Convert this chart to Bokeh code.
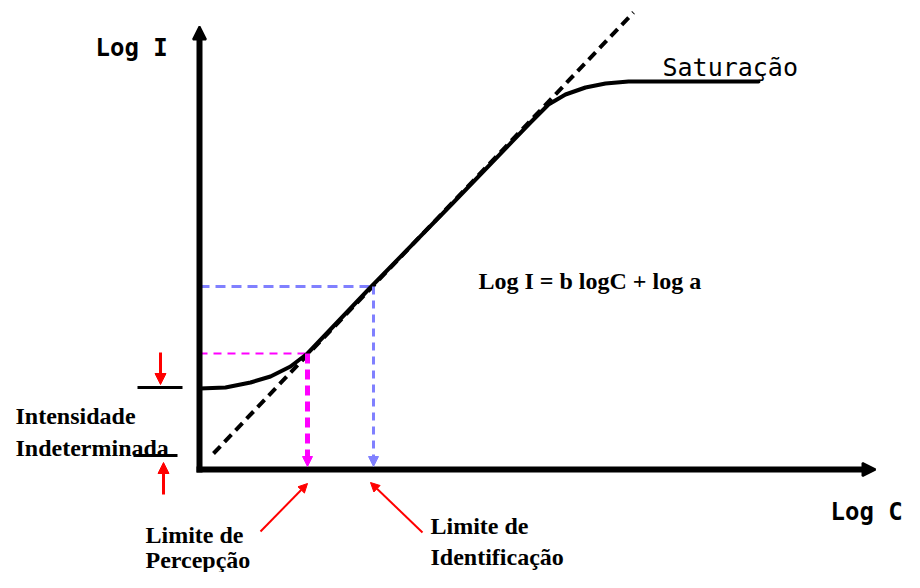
from bokeh.plotting import figure
from bokeh.models import Range1d, Arrow, NormalHead
from bokeh.core.properties import value
from bokeh.embed import file_html
from bokeh.resources import INLINE

# ---- data (arbitrary log units; origin = axes crossing) ----
curve_logC = [0.00, 0.26, 0.51, 0.71, 0.91, 1.08, 1.68, 2.51, 3.31, 3.49, 3.66, 3.86, 4.06, 4.29, 5.59]
curve_logI = [0.81, 0.82, 0.87, 0.93, 1.03, 1.16, 1.79, 2.64, 3.47, 3.65, 3.75, 3.82, 3.86, 3.88, 3.88]

tangent_logC = [0.14, 4.34]
tangent_logI = [0.16, 4.57]

axis_x_end = 6.76
axis_y_end = 4.43

perception_point = [1.08, 1.16]
identification_point = [1.74, 1.83]

indet_top_bar = [-0.62, -0.17, 0.82]
indet_bottom_bar = [-0.66, -0.22, 0.14]
indet_down_arrow = [-0.39, 1.17, 0.85]
indet_up_arrow = [-0.36, -0.25, 0.07]

perc_pointer = [0.61, -0.62, 1.08, -0.14]
ident_pointer = [2.23, -0.63, 1.71, -0.13]

labels_mono_bold = ["Log I", "Log C"]
labels_mono_bold_x = [-1.04, 6.31]
labels_mono_bold_y = [4.22, -0.42]

label_sat = ["Saturação"]
label_sat_x = [4.63]
label_sat_y = [4.02]

labels_serif = ["Intensidade", "Indeterminada", "Limite de", "Percepção",
                "Limite de", "Identificação", "Log I = b logC + log a"]
labels_serif_x = [-1.84, -1.84, -0.54, -0.54, 2.31, 2.31, 2.79]
labels_serif_y = [0.54, 0.22, -0.65, -0.90, -0.56, -0.87, 1.89]

W, H = 904, 572
p = figure(width=W, height=H, output_backend="svg", toolbar_location=None,
           x_range=Range1d(-1.99, 7.05), y_range=Range1d(-1.03, 4.69),
           min_border=0, min_border_left=0, min_border_right=0,
           min_border_top=0, min_border_bottom=0)
p.axis.visible = False
p.grid.visible = False
p.outline_line_color = None
p.background_fill_color = "white"
p.border_fill_color = "white"

BLACK = "#000000"
MAG = "#FF00FF"
BLUE = "#8080FF"
RED = "#FF0000"

# axes with arrow heads
p.add_layout(Arrow(end=NormalHead(size=13, fill_color=BLACK, line_color=BLACK, line_width=2),
                   x_start=0, y_start=-0.03, x_end=0, y_end=axis_y_end,
                   line_width=6, line_color=BLACK))
p.add_layout(Arrow(end=NormalHead(size=13, fill_color=BLACK, line_color=BLACK, line_width=2),
                   x_start=-0.03, y_start=0, x_end=axis_x_end, y_end=0,
                   line_width=6, line_color=BLACK))

# dashed reference lines
p.line([0, perception_point[0]], [perception_point[1]] * 2, line_color=MAG, line_width=2, line_dash="8 6")
p.add_layout(Arrow(end=NormalHead(size=10, fill_color=MAG, line_color=MAG, line_width=1),
                   x_start=perception_point[0], y_start=perception_point[1],
                   x_end=perception_point[0], y_end=0.03,
                   line_color=MAG, line_width=5, line_dash="10 6"))
p.line([0, identification_point[0]], [identification_point[1]] * 2, line_color=BLUE, line_width=3, line_dash="10 6")
p.add_layout(Arrow(end=NormalHead(size=10, fill_color=BLUE, line_color=BLUE, line_width=1),
                   x_start=identification_point[0], y_start=identification_point[1],
                   x_end=identification_point[0], y_end=0.03,
                   line_color=BLUE, line_width=3, line_dash="8 6"))

# tangent (dashed) and calibration curve
p.line(tangent_logC, tangent_logI, line_color=BLACK, line_width=4, line_dash="10 6")
p.line(curve_logC, curve_logI, line_color=BLACK, line_width=4, line_join="round", line_cap="round")

# indeterminate intensity markers
p.line(indet_top_bar[:2], [indet_top_bar[2]] * 2, line_color=BLACK, line_width=3)
p.line(indet_bottom_bar[:2], [indet_bottom_bar[2]] * 2, line_color=BLACK, line_width=3)
p.add_layout(Arrow(end=NormalHead(size=11, fill_color=RED, line_color=RED, line_width=1),
                   x_start=indet_down_arrow[0], y_start=indet_down_arrow[1],
                   x_end=indet_down_arrow[0], y_end=indet_down_arrow[2],
                   line_color=RED, line_width=3))
p.add_layout(Arrow(end=NormalHead(size=11, fill_color=RED, line_color=RED, line_width=1),
                   x_start=indet_up_arrow[0], y_start=indet_up_arrow[1],
                   x_end=indet_up_arrow[0], y_end=indet_up_arrow[2],
                   line_color=RED, line_width=3))

# pointers to limits
for ptr in (perc_pointer, ident_pointer):
    p.add_layout(Arrow(end=NormalHead(size=9, fill_color=RED, line_color=RED, line_width=1),
                       x_start=ptr[0], y_start=ptr[1], x_end=ptr[2], y_end=ptr[3],
                       line_color=RED, line_width=2))

# texts
p.text(x=labels_mono_bold_x, y=labels_mono_bold_y, text=labels_mono_bold,
       text_font=value("DejaVu Sans Mono"), text_font_style="bold",
       text_font_size="24px", text_baseline="alphabetic", text_color=BLACK)
p.text(x=label_sat_x, y=label_sat_y, text=label_sat,
       text_font=value("DejaVu Sans Mono"), text_font_size="25px",
       text_baseline="alphabetic", text_color=BLACK)
p.text(x=labels_serif_x, y=labels_serif_y, text=labels_serif,
       text_font=value("Liberation Serif"), text_font_style="bold",
       text_font_size="24px", text_baseline="alphabetic", text_color=BLACK)

open("out.html", "w").write(file_html(p, INLINE))
